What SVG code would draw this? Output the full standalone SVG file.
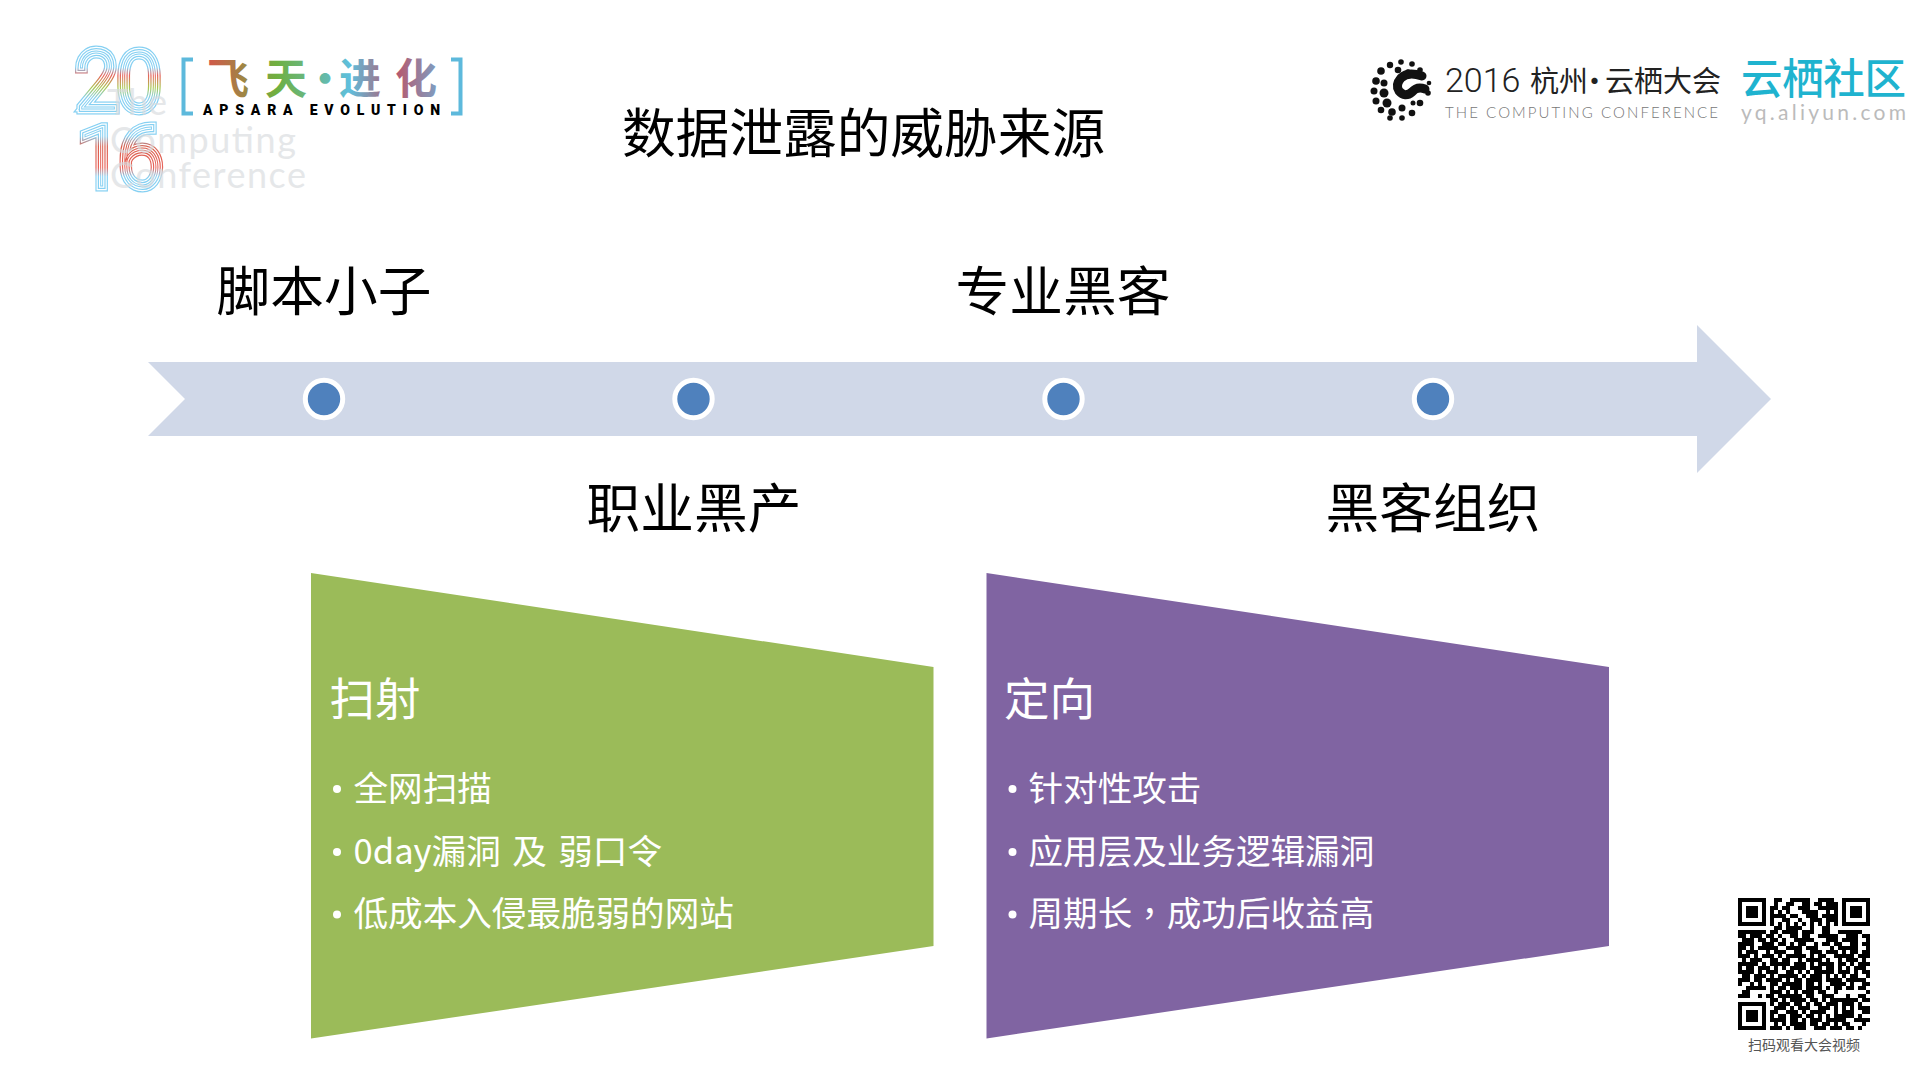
<svg xmlns="http://www.w3.org/2000/svg" xmlns:xlink="http://www.w3.org/1999/xlink" width="1919" height="1079" viewBox="0 0 1919 1079">
<style>
text{font-family:"Noto Sans CJK SC","Noto Sans",sans-serif}
.h{font-size:53.7px;font-weight:400;fill:#000;text-anchor:middle}
.bt{font-size:45.5px;font-weight:400;fill:#fff}
.li{font-size:34.6px;font-weight:400;fill:#fff}
.bu{fill:#fff}
.dot{fill:#4f81bd;stroke:#fff;stroke-width:5}
.ghost{font-family:Lato,sans-serif;font-size:36px;fill:#d8dbde;opacity:.65}
.num{font-family:Roboto,sans-serif;font-weight:100;fill:none}
.k{fill:#111}
</style>
<defs>
<linearGradient id="g20" gradientUnits="userSpaceOnUse" x1="0" y1="47" x2="0" y2="115"><stop offset=".3" stop-color="#86d0f2"/><stop offset=".42" stop-color="#e8635a"/><stop offset=".6" stop-color="#a8c850"/><stop offset=".75" stop-color="#86d0f2"/></linearGradient>
<linearGradient id="g16" gradientUnits="userSpaceOnUse" x1="0" y1="122" x2="0" y2="192"><stop offset=".2" stop-color="#86d0f2"/><stop offset=".35" stop-color="#d8604f"/><stop offset=".65" stop-color="#e8635a"/><stop offset=".78" stop-color="#86d0f2"/></linearGradient>
<linearGradient id="gf" gradientUnits="userSpaceOnUse" x1="208" y1="0" x2="436" y2="0"><stop offset="0" stop-color="#d2584a"/><stop offset=".3" stop-color="#6fb040"/><stop offset=".62" stop-color="#5fbfdd"/><stop offset=".82" stop-color="#b9556a"/><stop offset="1" stop-color="#7f9cc0"/></linearGradient>
<text id="n20" class="num" font-size="79" x="76" y="109" textLength="84" lengthAdjust="spacingAndGlyphs">20</text>
<text id="n16" class="num" font-size="81" x="78" y="186" textLength="84" lengthAdjust="spacingAndGlyphs">16</text>
<path id="fp" fill-rule="evenodd" d="M0 0h7v7h-7zM1 1v5h5v-5zM2 2h3v3h-3z"/>
</defs>
<rect width="1919" height="1079" fill="#fff"/>

<g id="logo-left">
<use href="#n20" stroke="url(#g20)" stroke-width="11"/>
<use href="#n20" stroke="#fff" stroke-width="8.500"/>
<use href="#n20" stroke="url(#g20)" stroke-width="6"/>
<use href="#n20" stroke="#fff" stroke-width="3.500"/>
<use href="#n20" stroke="url(#g20)" stroke-width="1"/>
<use href="#n16" stroke="url(#g16)" stroke-width="11"/>
<use href="#n16" stroke="#fff" stroke-width="8.500"/>
<use href="#n16" stroke="url(#g16)" stroke-width="6"/>
<use href="#n16" stroke="#fff" stroke-width="3.500"/>
<use href="#n16" stroke="url(#g16)" stroke-width="1"/>
<text class="ghost" x="107" y="115">The</text>
<text class="ghost" x="110" y="153" textLength="186">Computing</text>
<text class="ghost" x="110" y="188" textLength="196">Conference</text>
<path d="M193 59.500H183.500V113.500H193M451 59.500H460.500V113.500H451" fill="none" stroke="#5db9dc" stroke-width="4"/>
<text x="207 265 304 339 395" y="94" font-size="42" font-weight="700" fill="url(#gf)">飞天·进化</text>
<text x="203" y="115" font-size="14" font-weight="900" fill="#000" textLength="237" style="font-family:Roboto,sans-serif">APSARA EVOLUTION</text>
</g>

<g id="logo-right">
<g class="k">
<circle cx="1401" cy="62" r="2.800"/><circle cx="1412" cy="64" r="2.800"/><circle cx="1390" cy="65" r="3.200"/><circle cx="1420" cy="70" r="2.800"/><circle cx="1381" cy="71" r="3.800"/><circle cx="1376" cy="81" r="3.800"/><circle cx="1384" cy="83" r="3.500"/><circle cx="1374" cy="91" r="3.500"/><circle cx="1384" cy="93" r="4.500"/><circle cx="1376" cy="101" r="3.500"/><circle cx="1387" cy="103" r="4.500"/><circle cx="1381" cy="110" r="3.300"/><circle cx="1392" cy="112" r="3.800"/><circle cx="1402" cy="108" r="3.500"/><circle cx="1390" cy="118" r="2.800"/><circle cx="1402" cy="118" r="2.800"/><circle cx="1412" cy="113" r="3.300"/><circle cx="1420" cy="103" r="3.300"/><circle cx="1428" cy="93" r="2.800"/><circle cx="1429" cy="83" r="2.300"/><circle cx="1398" cy="70" r="3.300"/><circle cx="1408" cy="72" r="2.800"/><circle cx="1413" cy="103" r="2.500"/>
</g>
<path d="M1422 76Q1408 71 1401 78Q1395 85 1399 91Q1405 98 1412 92Q1417 86 1425 89" fill="none" stroke="#111" stroke-width="9" stroke-linecap="round"/>
<text y="92" font-size="29" fill="#222" font-weight="400"><tspan x="1445" font-size="34" font-weight="300" style="font-family:Roboto,sans-serif">2016</tspan><tspan x="1530 1559 1580 1605 1634 1663 1692">杭州·云栖大会</tspan></text>
<text x="1445" y="118" font-size="15" font-weight="300" fill="#777" textLength="273" style="font-family:Lato,sans-serif">THE COMPUTING CONFERENCE</text>
<text x="1741" y="94" font-size="41.500" font-weight="500" fill="#1fb3cf" textLength="165">云栖社区</text>
<text x="1741" y="120" font-size="21" fill="#bbb" textLength="165" style="font-family:Lato,sans-serif">yq.aliyun.com</text>
</g>

<text id="title" class="h" x="863.500" y="153">数据泄露的威胁来源</text>

<g id="timeline">
<path d="M148 362H1697V325L1771 399L1697 473V436H148L185 399Z" fill="#d0d8e8"/>
</g>

<g id="stage-1"><circle class="dot" cx="324" cy="399" r="18.700"/><text class="h" x="324" y="310.500">脚本小子</text></g>
<g id="stage-2"><circle class="dot" cx="693.500" cy="399" r="18.700"/><text class="h" x="694" y="527.500">职业黑产</text></g>
<g id="stage-3"><circle class="dot" cx="1063.500" cy="399" r="18.700"/><text class="h" x="1063" y="310.500">专业黑客</text></g>
<g id="stage-4"><circle class="dot" cx="1433" cy="399" r="18.700"/><text class="h" x="1433" y="527.500">黑客组织</text></g>

<g id="box-scan">
<path d="M311 573L933.500 667V946L311 1038.500Z" fill="#9bbb59"/>
<text class="bt" x="329.500" y="716">扫射</text>
<circle class="bu" cx="337" cy="789" r="4"/><circle class="bu" cx="337" cy="852" r="4"/><circle class="bu" cx="337" cy="914.500" r="4"/>
<text class="li" x="353.500" y="801">全网扫描</text>
<text class="li" x="353.500" y="864" word-spacing="3.700">0day漏洞 及 弱口令</text>
<text class="li" x="353.500" y="926">低成本入侵最脆弱的网站</text>
</g>

<g id="box-target">
<path d="M986.500 573L1609 667V946L986.500 1038.500Z" fill="#8064a2"/>
<text class="bt" x="1004" y="716">定向</text>
<circle class="bu" cx="1012.500" cy="789" r="4"/><circle class="bu" cx="1012.500" cy="852" r="4"/><circle class="bu" cx="1012.500" cy="914.500" r="4"/>
<text class="li" x="1028.500" y="801">针对性攻击</text>
<text class="li" x="1028.500" y="864">应用层及业务逻辑漏洞</text>
<text class="li" x="1028.500" y="926">周期长<tspan style="font-family:'Noto Sans CJK TC',sans-serif">，</tspan>成功后收益高</text>
</g>

<g id="qr">
<g transform="translate(1738 898) scale(4)">
<use href="#fp"/><use href="#fp" x="26"/><use href="#fp" y="26"/>
<path fill="none" stroke="#000" stroke-width="1" d="M9 .5h2M13 .5h5M20 .5h4M9 1.500h1M12 1.500h2M16 1.500h2M19 1.500h2M22 1.500h3M8 2.500h2M11 2.500h2M15 2.500h3M20 2.500h5M8 3.500h1M10 3.500h1M12 3.500h1M16 3.500h4M22 3.500h1M24 3.500h1M8 4.500h4M13 4.500h2M17 4.500h3M21 4.500h4M8 5.500h1M11 5.500h2M15 5.500h1M18 5.500h3M22 5.500h3M8 6.500h1M10 6.500h1M12 6.500h1M14 6.500h1M16 6.500h1M18 6.500h1M20 6.500h1M22 6.500h1M24 6.500h1M9 7.500h2M12 7.500h4M18 7.500h1M21 7.500h2M0 8.500h7M8 8.500h2M11 8.500h4M16 8.500h3M21 8.500h2M25 8.500h6M0 9.500h2M3 9.500h3M7 9.500h2M10 9.500h1M13 9.500h2M16 9.500h2M20 9.500h5M27 9.500h3M31 9.500h2M1 10.500h3M5 10.500h2M8 10.500h2M11 10.500h1M14 10.500h5M22 10.500h3M26 10.500h4M32 10.500h1M0 11.500h4M6 11.500h3M10 11.500h2M13 11.500h1M15 11.500h2M19 11.500h1M21 11.500h2M24 11.500h2M28 11.500h2M31 11.500h2M0 12.500h2M3 12.500h1M5 12.500h5M12 12.500h4M17 12.500h3M23 12.500h1M25 12.500h5M32 12.500h1M0 13.500h1M2 13.500h3M7 13.500h1M9 13.500h3M14 13.500h2M18 13.500h3M22 13.500h3M26 13.500h1M28 13.500h2M31 13.500h2M0 14.500h3M4 14.500h1M6 14.500h3M10 14.500h1M12 14.500h5M18 14.500h1M20 14.500h2M24 14.500h5M30 14.500h3M1 15.500h1M3 15.500h3M8 15.500h2M11 15.500h2M15 15.500h1M17 15.500h4M22 15.500h1M25 15.500h1M27 15.500h3M31 15.500h1M0 16.500h5M6 16.500h1M8 16.500h5M14 16.500h3M18 16.500h1M20 16.500h4M25 16.500h2M28 16.500h1M30 16.500h3M0 17.500h1M2 17.500h2M5 17.500h3M9 17.500h1M11 17.500h1M13 17.500h4M18 17.500h3M22 17.500h2M25 17.500h1M27 17.500h1M29 17.500h3M0 18.500h4M5 18.500h1M7 18.500h3M12 18.500h2M15 18.500h1M17 18.500h1M19 18.500h5M25 18.500h3M29 18.500h1M31 18.500h2M1 19.500h2M4 19.500h3M8 19.500h1M10 19.500h5M16 19.500h1M18 19.500h3M22 19.500h1M24 19.500h1M26 19.500h1M28 19.500h2M32 19.500h1M0 20.500h3M4 20.500h2M7 20.500h4M12 20.500h1M14 20.500h2M17 20.500h4M22 20.500h4M27 20.500h5M0 21.500h1M3 21.500h1M5 21.500h1M8 21.500h2M11 21.500h5M17 21.500h2M20 21.500h1M23 21.500h4M28 21.500h1M31 21.500h2M2 22.500h5M8 22.500h1M10 22.500h2M13 22.500h3M17 22.500h4M22 22.500h1M24 22.500h2M27 22.500h2M30 22.500h2M1 23.500h2M8 23.500h3M12 23.500h1M14 23.500h1M16 23.500h3M20 23.500h2M24 23.500h1M32 23.500h1M0 24.500h3M5 24.500h1M7 24.500h2M10 24.500h6M17 24.500h2M21 24.500h3M27 24.500h1M30 24.500h2M8 25.500h2M11 25.500h1M13 25.500h4M18 25.500h2M21 25.500h1M23 25.500h7M31 25.500h2M8 26.500h1M10 26.500h3M14 26.500h2M17 26.500h1M19 26.500h2M22 26.500h2M24 26.500h1M26 26.500h3M30 26.500h1M9 27.500h3M13 27.500h1M15 27.500h3M20 27.500h3M24 27.500h1M26 27.500h1M28 27.500h1M30 27.500h3M8 28.500h2M12 28.500h3M16 28.500h1M18 28.500h4M24 28.500h1M26 28.500h3M31 28.500h2M8 29.500h1M10 29.500h2M13 29.500h3M17 29.500h2M20 29.500h1M22 29.500h1M24 29.500h5M30 29.500h1M8 30.500h4M13 30.500h2M16 30.500h1M18 30.500h3M22 30.500h5M29 30.500h4M9 31.500h1M11 31.500h1M13 31.500h4M18 31.500h2M21 31.500h2M24 31.500h1M26 31.500h2M31 31.500h1M8 32.500h3M12 32.500h1M14 32.500h3M19 32.500h3M23 32.500h3M27 32.500h2M30 32.500h1"/>
</g>
<text x="1804" y="1050" font-size="14" fill="#555" text-anchor="middle">扫码观看大会视频</text>
</g>
</svg>
